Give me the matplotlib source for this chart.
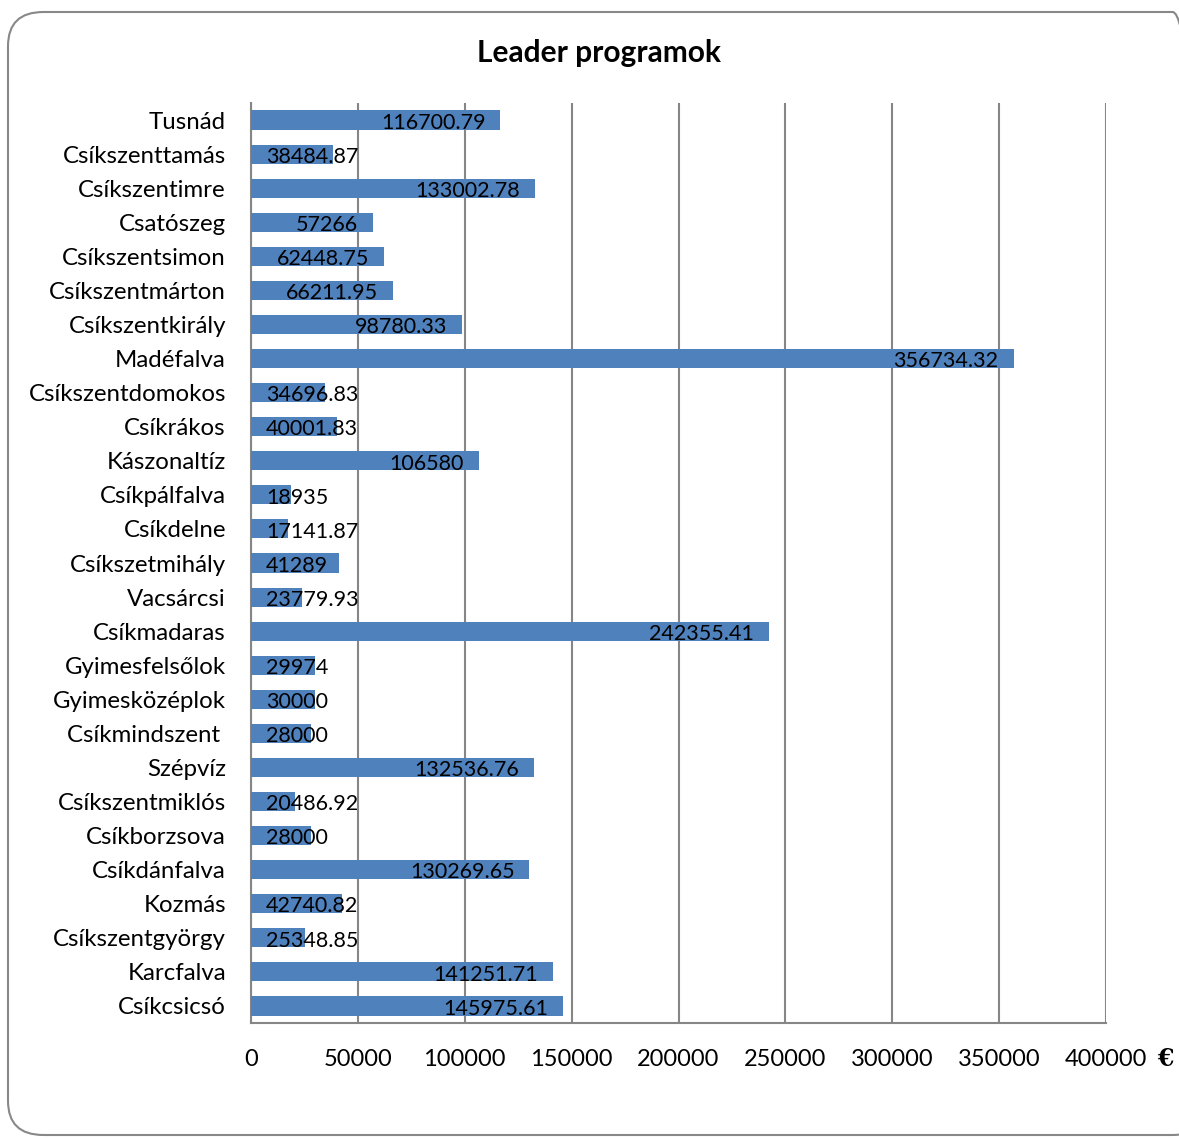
import matplotlib
matplotlib.use('Agg')
import matplotlib.pyplot as plt
from matplotlib.patches import FancyBboxPatch

plt.rcParams['font.family'] = ['Lato', 'DejaVu Sans']

# telepulesek, felulrol lefele
telepulesek = [
    'Tusnád', 'Csíkszenttamás', 'Csíkszentimre', 'Csatószeg', 'Csíkszentsimon',
    'Csíkszentmárton', 'Csíkszentkirály', 'Madéfalva', 'Csíkszentdomokos',
    'Csíkrákos', 'Kászonaltíz', 'Csíkpálfalva', 'Csíkdelne', 'Csíkszetmihály',
    'Vacsárcsi', 'Csíkmadaras', 'Gyimesfelsőlok', 'Gyimesközéplok',
    'Csíkmindszent ', 'Szépvíz', 'Csíkszentmiklós', 'Csíkborzsova',
    'Csíkdánfalva', 'Kozmás', 'Csíkszentgyörgy', 'Karcfalva', 'Csíkcsicsó',
]
osszegek = [
    116700.79, 38484.87, 133002.78, 57266, 62448.75,
    66211.95, 98780.33, 356734.32, 34696.83,
    40001.83, 106580, 18935, 17141.87, 41289,
    23779.93, 242355.41, 29974, 30000,
    28000, 132536.76, 20486.92, 28000,
    130269.65, 42740.82, 25348.85, 141251.71, 145975.61,
]
cimkek = ['116700.79', '38484.87', '133002.78', '57266', '62448.75',
          '66211.95', '98780.33', '356734.32', '34696.83',
          '40001.83', '106580', '18935', '17141.87', '41289',
          '23779.93', '242355.41', '29974', '30000',
          '28000', '132536.76', '20486.92', '28000',
          '130269.65', '42740.82', '25348.85', '141251.71', '145975.61']
x_ticks = [0, 50000, 100000, 150000, 200000, 250000, 300000, 350000, 400000]

fig = plt.figure(figsize=(11.79, 11.38), dpi=100)

# lekerekitett keret
keret = FancyBboxPatch((8 / 1179, 1 - 1135 / 1138), 1200 / 1179, 1123 / 1138,
                       boxstyle='round,pad=0,rounding_size=0.03',
                       transform=fig.transFigure, facecolor='none',
                       edgecolor='#888888', linewidth=1.5, clip_on=False, zorder=-5)
fig.patches.append(keret)

ax = fig.add_axes([251 / 1179, 1 - 1023 / 1138, 855 / 1179, 920 / 1138])
ax.patch.set_alpha(0)
ypos = list(range(len(telepulesek)))
ax.barh(ypos, osszegek, height=0.56, color='#4F81BD', zorder=3)
ax.set_ylim(len(telepulesek) - 0.5, -0.5)
ax.set_xlim(0, 400000)
ax.set_xticks(x_ticks)
ax.set_xticklabels([str(t) for t in x_ticks], fontsize=17)
ax.set_yticks(ypos)
ax.set_yticklabels(telepulesek, fontsize=17.3)
ax.tick_params(axis='both', length=0, colors='black')
ax.tick_params(axis='x', pad=19)
ax.tick_params(axis='y', pad=18)
ax.grid(axis='x', color='#868686', linewidth=1.5, zorder=0)
for s in ['top', 'right']:
    ax.spines[s].set_visible(False)
for s in ['left', 'bottom']:
    ax.spines[s].set_color('#868686')
    ax.spines[s].set_linewidth(1.5)

fig.text(599 / 1179, 1 - 53 / 1138, 'Leader programok', ha='center', va='center',
         fontsize=21.5, fontweight='bold')
fig.text(1165 / 1179, 1 - 1059 / 1138, '€', ha='center', va='center',
         fontsize=17, fontweight='bold', family='DejaVu Serif')

# ertek cimkek: belul a vegen, ha nem fer el akkor a tengelytol
fig.canvas.draw()
renderer = fig.canvas.get_renderer()
px = 400000 / 855
pad = 15 * px
for y, v, c in zip(ypos, osszegek, cimkek):
    t = ax.text(v - pad, y + 0.08, c, ha='right', va='center', fontsize=15.5, zorder=4)
    w = t.get_window_extent(renderer).width * px
    if v - pad - w < pad:
        t.set_x(pad)
        t.set_ha('left')

fig.savefig('out.png', dpi=100)
